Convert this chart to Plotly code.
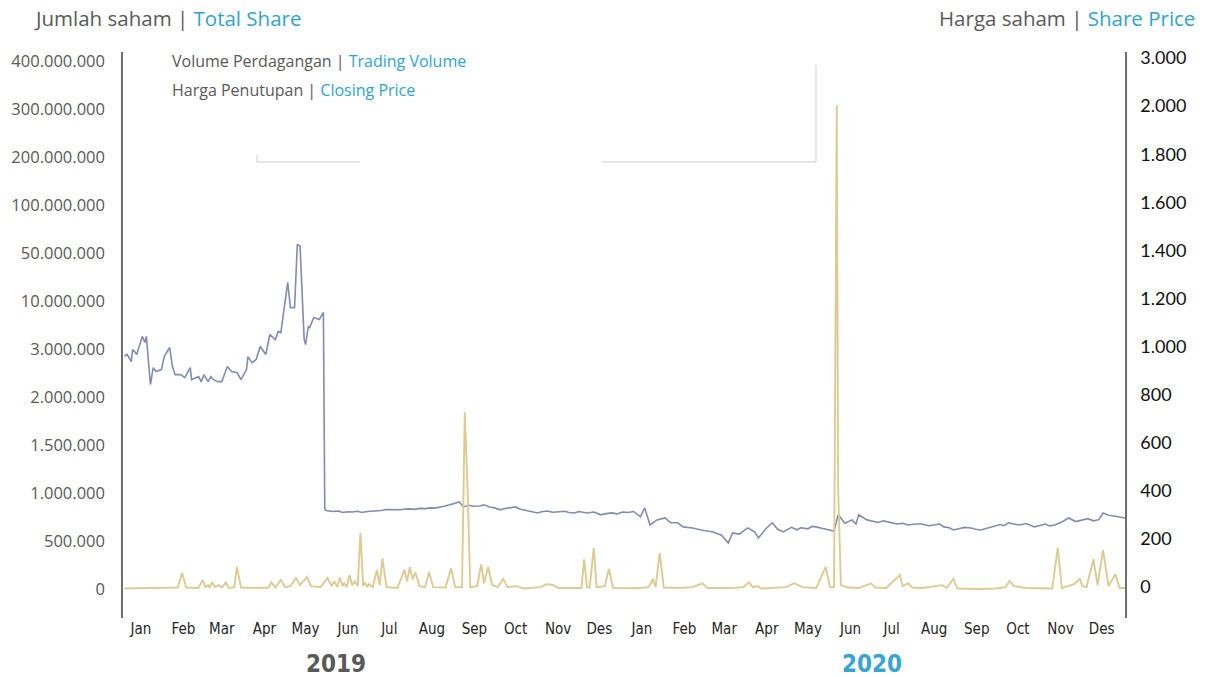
import numpy as np
import plotly.graph_objects as go

# ---------------- data ----------------
left_tick_values = [0, 500000, 1000000, 1500000, 2000000, 3000000, 10000000,
                    50000000, 100000000, 200000000, 300000000, 400000000]
left_tick_text = ["0", "500.000", "1.000.000", "1.500.000", "2.000.000", "3.000.000",
                  "10.000.000", "50.000.000", "100.000.000", "200.000.000",
                  "300.000.000", "400.000.000"]
right_tick_values = [0, 200, 400, 600, 800, 1000, 1200, 1400, 1600, 1800, 2000, 3000]
right_tick_text = ["0", "200", "400", "600", "800", "1.000", "1.200", "1.400",
                   "1.600", "1.800", "2.000", "3.000"]

month_ticks = [f"{y}-{m:02d}-14" for y in (2019, 2020) for m in range(1, 13)]
month_labels = ["Jan", "Feb", "Mar", "Apr", "May", "Jun", "Jul", "Aug", "Sep",
                "Oct", "Nov", "Des"] * 2

price_dates = [
    "2019-01-02", "2019-01-04", "2019-01-07", "2019-01-08", "2019-01-10", "2019-01-11",
    "2019-01-15", "2019-01-17", "2019-01-18", "2019-01-21", "2019-01-23", "2019-01-25",
    "2019-01-29", "2019-01-31", "2019-02-04", "2019-02-06", "2019-02-08", "2019-02-12",
    "2019-02-15", "2019-02-19", "2019-02-20", "2019-02-25", "2019-02-27", "2019-03-01",
    "2019-03-04", "2019-03-06", "2019-03-08", "2019-03-11", "2019-03-14", "2019-03-18",
    "2019-03-21", "2019-03-25", "2019-03-28", "2019-04-01", "2019-04-02", "2019-04-05",
    "2019-04-08", "2019-04-11", "2019-04-15", "2019-04-18", "2019-04-22", "2019-04-24",
    "2019-04-26", "2019-05-01", "2019-05-03", "2019-05-06", "2019-05-08", "2019-05-10",
    "2019-05-13", "2019-05-14", "2019-05-16", "2019-05-17", "2019-05-20", "2019-05-24",
    "2019-05-27", "2019-05-28", "2019-05-29", "2019-06-03", "2019-06-07", "2019-06-10",
    "2019-06-14", "2019-06-17", "2019-06-21", "2019-06-24", "2019-06-28", "2019-07-01",
    "2019-07-05", "2019-07-08", "2019-07-12", "2019-07-15", "2019-07-19", "2019-07-22",
    "2019-07-26", "2019-07-29", "2019-08-02", "2019-08-05", "2019-08-09", "2019-08-13",
    "2019-08-16", "2019-08-20", "2019-08-23", "2019-08-27", "2019-08-30", "2019-09-03",
    "2019-09-06", "2019-09-10", "2019-09-13", "2019-09-18", "2019-09-21", "2019-09-25",
    "2019-09-28", "2019-10-03", "2019-10-06", "2019-10-09", "2019-10-14", "2019-10-17",
    "2019-10-21", "2019-10-25", "2019-10-30", "2019-11-02", "2019-11-06", "2019-11-10",
    "2019-11-16", "2019-11-19", "2019-11-22", "2019-11-26", "2019-11-29", "2019-12-02",
    "2019-12-05", "2019-12-10", "2019-12-15", "2019-12-19", "2019-12-23", "2019-12-27",
    "2019-12-31",
    "2020-01-04", "2020-01-08", "2020-01-13", "2020-01-16", "2020-01-20", "2020-01-25",
    "2020-01-31", "2020-02-04", "2020-02-09", "2020-02-13", "2020-02-20", "2020-02-26",
    "2020-03-06", "2020-03-12", "2020-03-17", "2020-03-20", "2020-03-25", "2020-03-31",
    "2020-04-05", "2020-04-08", "2020-04-13", "2020-04-18", "2020-04-22", "2020-04-26",
    "2020-05-02", "2020-05-06", "2020-05-09", "2020-05-14", "2020-05-17", "2020-05-20",
    "2020-05-24", "2020-05-27", "2020-06-02", "2020-06-05", "2020-06-10", "2020-06-15",
    "2020-06-18", "2020-06-20", "2020-06-26", "2020-07-01", "2020-07-04", "2020-07-08",
    "2020-07-11", "2020-07-15", "2020-07-18", "2020-07-22", "2020-07-26", "2020-07-31",
    "2020-08-05", "2020-08-10", "2020-08-14", "2020-08-18", "2020-08-21", "2020-08-25",
    "2020-08-28", "2020-09-01", "2020-09-05", "2020-09-10", "2020-09-13", "2020-09-17",
    "2020-09-21", "2020-09-25", "2020-10-01", "2020-10-04", "2020-10-07", "2020-10-11",
    "2020-10-15", "2020-10-20", "2020-10-26", "2020-10-30", "2020-11-03", "2020-11-06",
    "2020-11-10", "2020-11-15", "2020-11-20", "2020-11-25", "2020-12-01", "2020-12-04",
    "2020-12-08", "2020-12-12", "2020-12-15", "2020-12-19", "2020-12-22", "2020-12-27",
    "2020-12-31",
]
price_values = [
    960, 967, 937, 987, 975, 967,
    1042, 1017, 1042, 842, 912, 896,
    904, 958, 996, 917, 883, 883,
    871, 912, 862, 875, 854, 883,
    854, 875, 862, 854, 854, 917,
    896, 892, 862, 904, 958, 933,
    946, 1000, 967, 1050, 1029, 1062,
    1058, 1267, 1162, 1162, 1425, 1417,
    1029, 1008, 1083, 1079, 1121, 1112,
    1142, 325, 318, 314, 316, 310,
    313, 312, 315, 310, 314, 315,
    318, 318, 322, 321, 320, 321,
    324, 325, 323, 327, 326, 329,
    328, 331, 336, 342, 346, 354,
    333, 340, 336, 337, 342, 333,
    330, 321, 326, 329, 333, 324,
    320, 316, 308, 313, 316, 311,
    312, 315, 310, 308, 314, 310,
    308, 312, 300, 305, 308, 304,
    312,
    310, 314, 292, 329, 258, 279,
    287, 267, 267, 250, 245, 237,
    229, 215, 183, 225, 220, 246,
    230, 204, 240, 267, 240, 229,
    248, 238, 246, 242, 252, 250,
    244, 240, 233, 300, 265, 279,
    262, 300, 279, 272, 268, 275,
    271, 266, 262, 265, 258, 262,
    262, 255, 258, 262, 250, 246,
    237, 244, 248, 245, 240, 237,
    244, 250, 260, 255, 267, 262,
    258, 264, 250, 256, 262, 254,
    258, 270, 287, 272, 279, 284,
    275, 280, 308, 298, 296, 292,
    287,
]

volume_dates = [
    "2019-01-02", "2019-01-20", "2019-02-05", "2019-02-10", "2019-02-13", "2019-02-16",
    "2019-02-25", "2019-02-28", "2019-03-02", "2019-03-04", "2019-03-05", "2019-03-07",
    "2019-03-09", "2019-03-12", "2019-03-14", "2019-03-17", "2019-03-19", "2019-03-23",
    "2019-03-25", "2019-03-28", "2019-04-10", "2019-04-17", "2019-04-19", "2019-04-22",
    "2019-04-26", "2019-04-29", "2019-05-03", "2019-05-07", "2019-05-10", "2019-05-15",
    "2019-05-18", "2019-05-25", "2019-05-30", "2019-06-02", "2019-06-04", "2019-06-06",
    "2019-06-08", "2019-06-10", "2019-06-11", "2019-06-13", "2019-06-15", "2019-06-17",
    "2019-06-19", "2019-06-21", "2019-06-23", "2019-06-25", "2019-06-26", "2019-06-28",
    "2019-06-29", "2019-07-02", "2019-07-05", "2019-07-07", "2019-07-09", "2019-07-12",
    "2019-07-20", "2019-07-25", "2019-07-27", "2019-07-29", "2019-07-31", "2019-08-02",
    "2019-08-05", "2019-08-09", "2019-08-12", "2019-08-15", "2019-08-24", "2019-08-28",
    "2019-08-31", "2019-09-05", "2019-09-07", "2019-09-09", "2019-09-11", "2019-09-16",
    "2019-09-19", "2019-09-21", "2019-09-24", "2019-09-27", "2019-10-01", "2019-10-05",
    "2019-10-08", "2019-10-15", "2019-10-20", "2019-11-01", "2019-11-06", "2019-11-10",
    "2019-11-14", "2019-11-28", "2019-12-01", "2019-12-03", "2019-12-05", "2019-12-07",
    "2019-12-10", "2019-12-12", "2019-12-18", "2019-12-21", "2019-12-24",
    "2020-01-10", "2020-01-19", "2020-01-22", "2020-01-24", "2020-01-27", "2020-01-30",
    "2020-02-10", "2020-02-20", "2020-02-27", "2020-03-02", "2020-03-20", "2020-03-28",
    "2020-04-01", "2020-04-04", "2020-04-07", "2020-04-10", "2020-04-28", "2020-05-01",
    "2020-05-04", "2020-05-07", "2020-05-10", "2020-05-20", "2020-05-27", "2020-05-30",
    "2020-06-02", "2020-06-04", "2020-06-05", "2020-06-07", "2020-06-12", "2020-06-20",
    "2020-06-29", "2020-07-02", "2020-07-10", "2020-07-20", "2020-07-22", "2020-07-26",
    "2020-07-29", "2020-08-05", "2020-08-20", "2020-08-23", "2020-08-28", "2020-08-31",
    "2020-09-15", "2020-09-28", "2020-10-05", "2020-10-08", "2020-10-11", "2020-10-20",
    "2020-11-01", "2020-11-08", "2020-11-12", "2020-11-15", "2020-11-24", "2020-11-28",
    "2020-11-30", "2020-12-03", "2020-12-08", "2020-12-11", "2020-12-15", "2020-12-19",
    "2020-12-24", "2020-12-27", "2020-12-31",
]
volume_values = [
    5000, 8000, 10000, 15000, 170000, 15000,
    10000, 95000, 20000, 40000, 15000, 70000,
    20000, 40000, 15000, 70000, 10000, 20000,
    230000, 15000, 10000, 15000, 70000, 15000,
    95000, 20000, 30000, 115000, 40000, 125000,
    30000, 20000, 115000, 30000, 80000, 20000,
    120000, 30000, 60000, 20000, 145000, 40000,
    80000, 30000, 585000, 30000, 70000, 20000,
    50000, 20000, 200000, 40000, 320000, 20000,
    10000, 200000, 80000, 230000, 100000, 175000,
    30000, 20000, 175000, 20000, 15000, 220000,
    20000, 20000, 1840000, 1060000, 20000, 30000,
    260000, 60000, 230000, 40000, 20000, 105000,
    20000, 30000, 5000, 20000, 50000, 45000,
    10000, 5000, 10000, 310000, 20000, 15000,
    430000, 20000, 30000, 210000, 10000,
    8000, 20000, 105000, 20000, 375000, 15000,
    10000, 20000, 60000, 10000, 10000, 20000,
    70000, 20000, 30000, 5000, 20000, 40000,
    60000, 40000, 20000, 10000, 230000, 20000,
    20000, 308000000, 1060000, 40000, 15000, 10000,
    60000, 15000, 10000, 145000, 30000, 60000,
    15000, 10000, 40000, 10000, 105000, 5000,
    0, 5000, 20000, 85000, 30000, 10000,
    5000, 5000, 430000, 10000, 50000, 105000,
    30000, 20000, 310000, 40000, 405000, 30000,
    155000, 10000, 10000,
]

# ---------------- scale mapping (custom piecewise axes) ----------------
idx = np.arange(len(left_tick_values))
vol_pos = np.interp(volume_values, left_tick_values, idx)
price_pos = np.interp(price_values, right_tick_values, idx)

GRAY_TXT = "#595959"
BLUE_TXT = "#2fa3d6"
AXIS_COL = "#6e6e6e"
COND = "DejaVu Sans Condensed, Open Sans, sans-serif"

fig = go.Figure()
fig.add_trace(go.Scatter(
    x=price_dates, y=price_pos, mode="lines", name="Closing Price",
    line=dict(color="#828cb0", width=1.6), yaxis="y", showlegend=False,
    customdata=price_values, hovertemplate="%{x}: %{customdata}<extra></extra>"))
fig.add_trace(go.Scatter(
    x=volume_dates, y=vol_pos, mode="lines", name="Trading Volume",
    line=dict(color="#dccb92", width=1.9), yaxis="y2", showlegend=False,
    customdata=volume_values, hovertemplate="%{x}: %{customdata}<extra></extra>"))

fig.update_layout(
    width=1206, height=677,
    margin=dict(l=123, r=81, t=52, b=59),
    paper_bgcolor="white", plot_bgcolor="white",
    showlegend=False,
    xaxis=dict(
        type="date", range=["2019-01-01", "2020-12-31"],
        showgrid=False, zeroline=False, showline=False,
        tickmode="array", tickvals=month_ticks, ticktext=month_labels,
        ticks="", tickangle=0, automargin=False,
        tickfont=dict(family=COND, size=15, color="#262626"),
    ),
    yaxis=dict(
        side="right", range=[-0.645, 11.125],
        showgrid=False, zeroline=False, showline=True,
        linecolor=AXIS_COL, linewidth=1.5,
        tickmode="array", tickvals=list(idx), ticktext=right_tick_text,
        ticks="", ticklabelstandoff=10, automargin=False,
        tickfont=dict(family="Lato", size=18, color="#111111"),
    ),
    yaxis2=dict(
        side="left", overlaying="y", range=[-0.604, 11.1875],
        showgrid=False, zeroline=False, showline=True,
        linecolor=AXIS_COL, linewidth=1.5,
        tickmode="array", tickvals=list(idx), ticktext=left_tick_text,
        ticks="", ticklabelstandoff=13, automargin=False,
        tickfont=dict(family="Open Sans", size=16.5, color=GRAY_TXT),
    ),
)

def ann(text, x, y, xanchor, size, family="Open Sans", color=GRAY_TXT):
    fig.add_annotation(text=text, x=x, y=y, xref="paper", yref="paper",
                       xanchor=xanchor, yanchor="middle", showarrow=False,
                       font=dict(family=family, size=size, color=color))

ann(f"Jumlah saham | <span style='color:{BLUE_TXT}'>Total Share</span>",
    -0.0908, 1.060, "left", 20.5)
ann(f"Harga saham | <span style='color:{BLUE_TXT}'>Share Price</span>",
    1.0719, 1.060, "right", 20.5)
ann(f"Volume Perdagangan | <span style='color:{BLUE_TXT}'>Trading Volume</span>",
    0.0469, 0.984, "left", 16)
ann(f"Harga Penutupan | <span style='color:{BLUE_TXT}'>Closing Price</span>",
    0.0469, 0.933, "left", 16)
ann("<b>2019</b>", 0.2126, -0.0813, "center", 24, COND, "#595959")
ann("<b>2020</b>", 0.7475, -0.0813, "center", 24, COND, "#3aa3d4")

# faint bracket lines present in the reference
line_style = dict(color="#cfcfcf", width=1)
for x0, y0, x1, y1 in [(0.1337, 0.8180, 0.1337, 0.8057), (0.1337, 0.8057, 0.2365, 0.8057),
                       (0.4780, 0.8057, 0.6916, 0.8057), (0.6916, 0.8057, 0.6916, 0.9770)]:
    fig.add_shape(type="line", xref="paper", yref="paper", x0=x0, y0=y0, x1=x1, y1=y1,
                  line=line_style)

fig.write_html("out.html", config={"displayModeBar": False},
               post_script="document.body.style.margin='0';"
                           "document.body.style.overflow='hidden';")
